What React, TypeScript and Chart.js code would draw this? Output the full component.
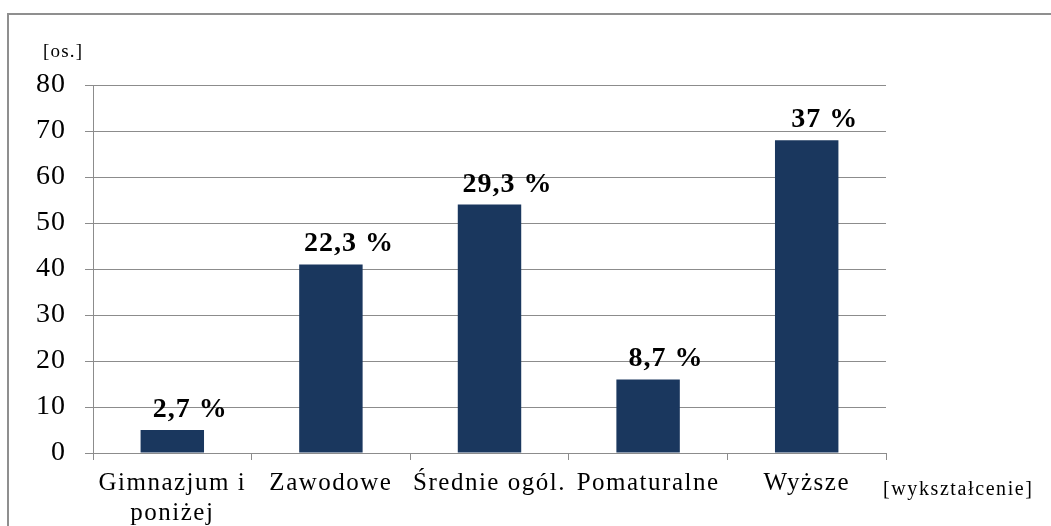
import React, { useEffect, useRef } from 'react';
import { Chart, registerables } from 'chart.js';

Chart.register(...registerables);

const categories: (string | string[])[] = [['Gimnazjum i', 'poniżej'], 'Zawodowe', 'Średnie ogól.', 'Pomaturalne', 'Wyższe'];
const counts = [5, 41, 54, 16, 68];
const shareLabels = ['2,7 %', '22,3 %', '29,3 %', '8,7 %', '37 %'];
const yMin = 0;
const yMax = 80;
const yStep = 10;
const yAxisTitle = '[os.]';
const xAxisTitle = '[wykształcenie]';

const SERIF = '"Liberation Serif", "Times New Roman", serif';
const GRID = '#8c8c8c';
const BAR = '#1a375e';

function patchSpacing(scale: any, spacing: string) {
  if (!scale || scale.__ls) return;
  const orig = scale.drawLabels;
  scale.drawLabels = function (ca: any) {
    const ctx = this.ctx;
    ctx.save();
    (ctx as any).letterSpacing = spacing;
    orig.call(this, ca);
    ctx.restore();
  };
  scale.__ls = true;
}

const letterSpacingPlugin = {
  id: 'tickLetterSpacing',
  beforeDraw(chart: any) {
    patchSpacing(chart.scales.x, '1.5px');
    patchSpacing(chart.scales.y, '1px');
  },
};

const valueLabelPlugin = {
  id: 'valueLabels',
  afterDatasetsDraw(chart: any) {
    const ctx = chart.ctx;
    const meta = chart.getDatasetMeta(0);
    ctx.save();
    ctx.font = `bold 28px ${SERIF}`;
    (ctx as any).letterSpacing = '1px';
    ctx.fillStyle = '#000';
    ctx.textAlign = 'center';
    ctx.textBaseline = 'alphabetic';
    meta.data.forEach((bar: any, i: number) => {
      ctx.fillText(shareLabels[i], bar.x + 18, bar.y - 13);
    });
    ctx.restore();
  },
};

const axisTitlePlugin = {
  id: 'axisTitles',
  afterDraw(chart: any) {
    const ctx = chart.ctx;
    const a = chart.chartArea;
    ctx.save();
    ctx.fillStyle = '#000';
    ctx.textBaseline = 'middle';
    ctx.textAlign = 'left';
    (ctx as any).letterSpacing = '1.2px';
    ctx.font = `19px ${SERIF}`;
    ctx.fillText(yAxisTitle, a.left - 50, a.top - 33);
    (ctx as any).letterSpacing = '1.6px';
    ctx.font = `20px ${SERIF}`;
    ctx.fillText(xAxisTitle, a.right - 3, a.bottom + 37);
    ctx.restore();
  },
};

export default function App() {
  const ref = useRef<HTMLCanvasElement | null>(null);

  useEffect(() => {
    if (!ref.current) return;
    const chart = new Chart(ref.current, {
      type: 'bar',
      data: {
        labels: categories,
        datasets: [
          {
            data: counts,
            backgroundColor: BAR,
            borderWidth: 0,
            barPercentage: 0.4,
            categoryPercentage: 1,
          },
        ],
      },
      options: {
        animation: false,
        responsive: false,
        maintainAspectRatio: false,
        layout: { padding: { left: 0, top: 70, right: 165, bottom: 0 } },
        plugins: {
          legend: { display: false },
          tooltip: { enabled: false },
        },
        scales: {
          x: {
            grid: {
              offset: true,
              drawOnChartArea: false,
              drawTicks: true,
              tickLength: 7,
              color: GRID,
            },
            border: { color: GRID, width: 1 },
            ticks: {
              color: '#000',
              font: { family: SERIF, size: 25, lineHeight: 1.2 },
              padding: 8,
              autoSkip: false,
              maxRotation: 0,
              minRotation: 0,
            },
            afterFit: (scale: any) => {
              scale.height = 73;
            },
          },
          y: {
            min: yMin,
            max: yMax,
            grid: {
              color: GRID,
              tickLength: 8,
              drawTicks: true,
            },
            border: { color: GRID, width: 1 },
            ticks: {
              stepSize: yStep,
              color: '#000',
              font: { family: SERIF, size: 28 },
              padding: 19,
            },
            afterFit: (scale: any) => {
              scale.width = 84;
            },
          },
        },
      },
      plugins: [letterSpacingPlugin, valueLabelPlugin, axisTitlePlugin],
    });
    return () => chart.destroy();
  }, []);

  return (
    <div
      style={{
        position: 'fixed',
        left: 7,
        top: 13,
        width: 1044,
        height: 513,
        borderLeft: '2px solid #8f8f8f',
        borderTop: '2px solid #8f8f8f',
        background: '#fff',
        overflow: 'hidden',
      }}
    >
      <canvas ref={ref} width={1042} height={511} style={{ display: 'block' }} />
    </div>
  );
}
